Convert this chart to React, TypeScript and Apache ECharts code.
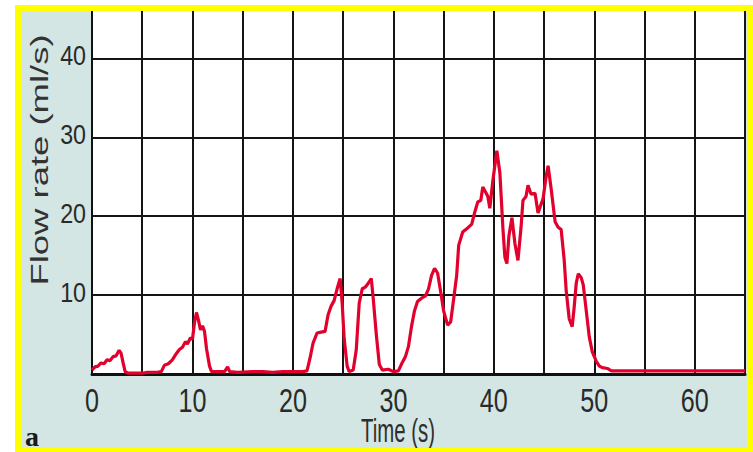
import React, { useEffect, useRef } from 'react';
import * as echarts from 'echarts';

const flowTime = [
  0, 0.3, 0.6, 0.9, 1.2, 1.5, 1.8, 2.1, 2.4, 2.7, 2.9, 3.1, 3.3, 3.6, 4.5, 5, 5.5, 6.5, 6.9,
  7.2, 7.6, 8.0, 8.4, 8.7, 9.0, 9.3, 9.5, 9.8, 10.0, 10.2, 10.4, 10.6, 10.8, 11.0, 11.2, 11.4, 11.7, 11.9,
  12.5, 13.2, 13.5, 13.7, 14.5, 16, 17, 18, 19, 20, 21, 21.4, 21.7, 22.0, 22.4, 22.8, 23.2, 23.5, 23.8,
  24.1, 24.4, 24.7, 24.9, 25.1, 25.4, 25.6, 26.0, 26.3, 26.6, 26.9, 27.2, 27.5, 27.8, 28.0, 28.3, 28.6,
  28.9, 29.5, 30.0, 30.5, 30.9, 31.2, 31.5, 31.8, 32.1, 32.4, 32.8, 33.2, 33.5, 33.8, 34.1, 34.4, 34.7,
  35.0, 35.4, 35.7, 36.0, 36.3, 36.5, 36.9, 37.3, 37.8, 38.1, 38.4, 38.7, 38.9, 39.2, 39.4, 39.6, 39.9,
  40.3, 40.6, 40.9, 41.1, 41.3, 41.5, 41.8, 42.1, 42.4, 42.7, 42.9, 43.2, 43.4, 43.7, 44.1, 44.4, 44.7,
  44.9, 45.2, 45.4, 45.7, 46.1, 46.4, 46.7, 47.0, 47.2, 47.5, 47.8, 48.0, 48.2, 48.4, 48.7, 48.9, 49.2,
  49.5, 49.8, 50.2, 50.5, 50.8, 51.3, 51.7, 53, 55, 57, 60, 63, 65,
];
const flowRate = [
  0.5, 0.9, 1.0, 1.4, 1.3, 1.8, 1.7, 2.2, 2.3, 3.0, 2.6, 1.4, 0.3, 0.1, 0.1, 0.1, 0.2, 0.2, 0.3,
  1.1, 1.3, 1.8, 2.6, 3.1, 3.4, 4.1, 3.8, 4.6, 4.4, 6.5, 7.8, 6.8, 5.6, 6.1, 5.4, 3.2, 1.0, 0.3,
  0.3, 0.3, 0.9, 0.3, 0.2, 0.3, 0.3, 0.2, 0.3, 0.3, 0.3, 0.4, 2.0, 3.9, 5.2, 5.3, 5.4, 7.5, 8.6,
  9.3, 10.8, 12.1, 9.0, 4.5, 1.0, 0.3, 0.5, 3.0, 9.0, 10.8, 11.0, 11.5, 12.1, 9.5, 5.0, 1.2,
  0.5, 0.6, 0.3, 0.4, 1.5, 2.2, 3.5, 6.0, 8.0, 9.2, 9.6, 9.9, 10.8, 12.5, 13.4, 12.8, 10.5,
  8.0, 6.2, 6.6, 9.5, 12.5, 16.3, 18.0, 18.4, 19.0, 20.5, 21.8, 22.0, 23.7, 23.0, 22.5, 21.0, 24.5,
  28.3, 25.5, 18.5, 14.8, 14.0, 17.5, 19.8, 16.5, 14.4, 18.5, 22.0, 22.5, 23.9, 22.8, 22.9, 20.4, 21.5,
  22.2, 25.0, 26.4, 23.5, 19.3, 18.6, 18.3, 14.5, 10.6, 7.0, 6.0, 8.5, 11.5, 12.7, 12.2, 11.3, 8.0,
  4.7, 2.8, 1.6, 1.0, 0.8, 0.7, 0.4, 0.4, 0.4, 0.4, 0.4, 0.4, 0.4,
];

const xLabelValues = [0, 10, 20, 30, 40, 50, 60];
const yLabelValues = [10, 20, 30, 40];
const yTitle = 'Flow rate (ml/s)';
const xTitle = 'Time (s)';
const panelLetter = 'a';

const sans = '"Liberation Sans", Arial, sans-serif';

export default function App() {
  const ref = useRef<HTMLDivElement>(null);
  useEffect(() => {
    const chart = echarts.init(ref.current!, null, { renderer: 'svg' });
    const data = flowTime.map((t, i) => [t, flowRate[i]]);
    chart.setOption({
      animation: false,
      backgroundColor: '#ffffff',
      grid: {
        left: 92, right: 8, top: 11, bottom: 78,
        show: true, backgroundColor: '#ffffff', borderWidth: 0,
      },
      xAxis: {
        type: 'value', min: 0, max: 65, interval: 5,
        axisLine: { show: true, onZero: false, lineStyle: { color: '#111', width: 3 } },
        axisTick: { show: false },
        axisLabel: { show: false },
        splitLine: { show: true, lineStyle: { color: '#151515', width: 2 } },
      },
      yAxis: {
        type: 'value', min: 0, max: 46, interval: 10,
        axisLine: { show: true, lineStyle: { color: '#111', width: 2 } },
        axisTick: { show: false },
        axisLabel: { show: false },
        splitLine: { show: true, showMaxLine: false, lineStyle: { color: '#151515', width: 2 } },
      },
      series: [{
        type: 'line', data, showSymbol: false, symbol: 'none',
        lineStyle: { color: '#e2002c', width: 3.2 },
        z: 5,
      }],
    });

    // Tick labels placed through the library's own scales (condensed look via scaleX)
    const xLabels = xLabelValues.map((v) => {
      const p = chart.convertToPixel({ gridIndex: 0 }, [v, 0]) as number[];
      return {
        type: 'text', z: 50, x: p[0], y: p[1] + 26, scaleX: 0.74,
        style: {
          text: String(v), fill: '#2a2a2a', font: `34px ${sans}`,
          align: 'center', verticalAlign: 'middle',
        },
      };
    });
    const yLabels = yLabelValues.map((v) => {
      const p = chart.convertToPixel({ gridIndex: 0 }, [0, v]) as number[];
      return {
        type: 'text', z: 50, x: p[0] - 6, y: p[1] - 3, scaleX: 0.83,
        style: {
          text: String(v), fill: '#2a2a2a', font: `28px ${sans}`,
          align: 'right', verticalAlign: 'middle',
        },
      };
    });

    chart.setOption({
      graphic: [
        { type: 'rect', z: -100, shape: { x: 21, y: 11, width: 726, height: 437 }, style: { fill: '#d3e6e4' } },
        ...xLabels,
        ...yLabels,
        {
          type: 'text', z: 50, x: 40, y: 160, rotation: Math.PI / 2, scaleX: 1.52,
          style: {
            text: yTitle, fill: '#333333', font: `24px ${sans}`,
            align: 'center', verticalAlign: 'middle',
          },
        },
        {
          type: 'text', z: 50, x: 398, y: 414, scaleX: 0.85, scaleY: 1.38,
          style: {
            text: xTitle, fill: '#2e2e2e', font: `24px ${sans}`,
            align: 'center', verticalAlign: 'top',
          },
        },
        {
          type: 'text', z: 50, x: 25, y: 450,
          style: {
            text: panelLetter, fill: '#1a1a1a', font: 'bold 28px "Liberation Serif", serif',
            align: 'left', verticalAlign: 'bottom',
          },
        },
        { type: 'rect', z: 100, shape: { x: 15, y: 5, width: 738, height: 6 }, style: { fill: '#ffff00' } },
        { type: 'rect', z: 100, shape: { x: 15, y: 5, width: 6, height: 447 }, style: { fill: '#ffff00' } },
        { type: 'rect', z: 100, shape: { x: 747, y: 5, width: 6, height: 447 }, style: { fill: '#ffff00' } },
        { type: 'rect', z: 100, shape: { x: 15, y: 448, width: 738, height: 4 }, style: { fill: '#ffff00' } },
      ],
    });
    return () => chart.dispose();
  }, []);
  return (
    <div
      ref={ref}
      style={{ position: 'fixed', left: 0, top: 0, width: 753, height: 452, background: '#fff' }}
    />
  );
}
